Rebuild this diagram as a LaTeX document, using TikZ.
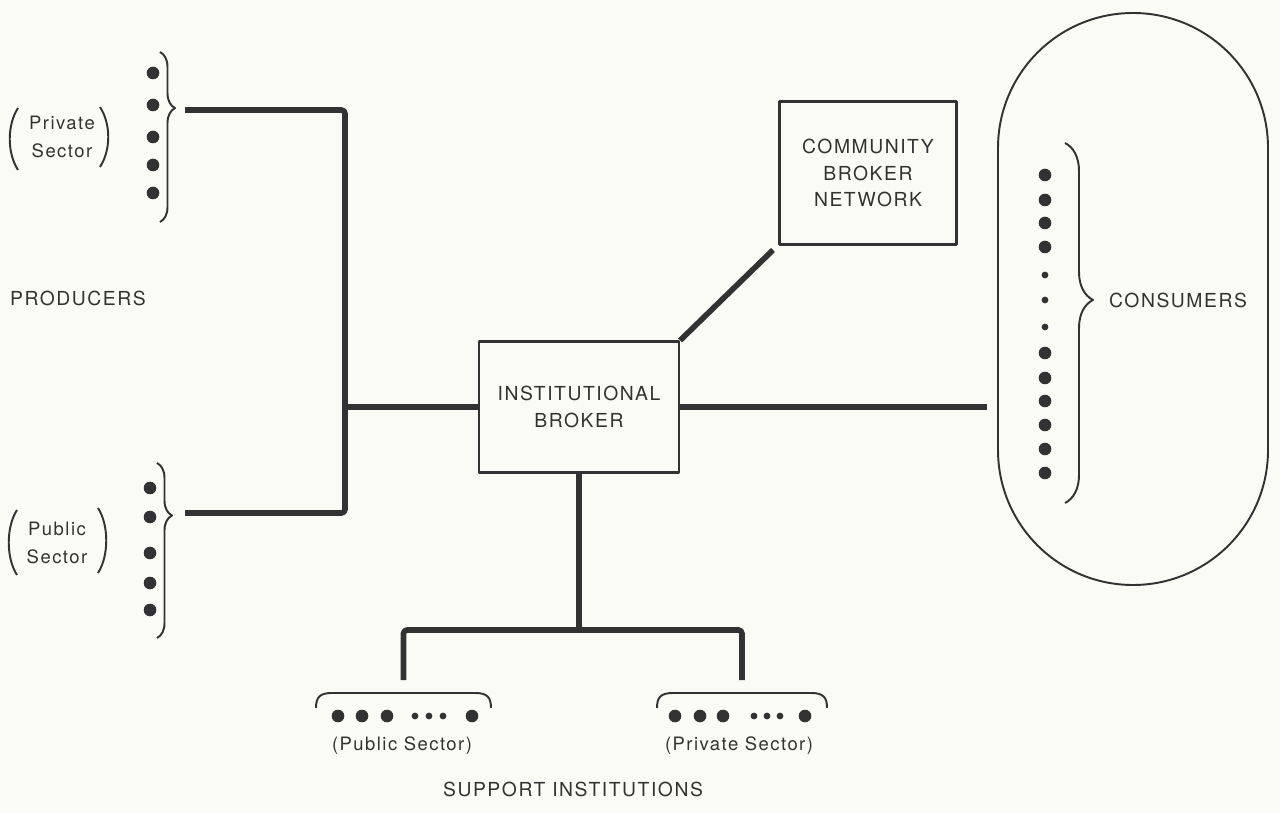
\documentclass[tikz,border=0pt]{standalone}
\usepackage{fontspec}
\setmainfont{TeX Gyre Heros}[LetterSpace=8]
\usepackage{xcolor}
\usepackage{tikz}
\usetikzlibrary{positioning}
\usetikzlibrary{decorations.pathreplacing}

\definecolor{ink}{RGB}{50,50,50}
\definecolor{paper}{RGB}{251,251,245}

\begin{document}
\begin{tikzpicture}[x = 0.02cm, y = -0.02cm, line join = round,
  feed/.style = {draw = ink, line width = 3.2pt, rounded corners = 2pt},
  boxed/.style = {draw = ink, line width = 1.2pt, align = center, inner sep = 0pt, text = ink, font = \fontsize{11}{15}\selectfont},
  lbl/.style = {text = ink, align = center, font = \fontsize{11}{15}\selectfont},
  small/.style = {text = ink, align = center, font = \fontsize{10.5}{15.5}\selectfont},
  brk/.style = {draw = ink, line width = 1.1pt, decorate},
  paren/.style = {draw = ink, line width = 1.1pt}]
\def\bigR{6.3}
\def\smallR{3.4}

\fill [paper] (0, 0) rectangle (1280, 813);
\useasboundingbox (0, 0) rectangle (1280, 813);

% producers
\node [lbl] (producers) at (78, 298) {PRODUCERS};
\node [small] (privLbl) at (62, 137) {Private\\Sector};
\draw [paren] (18, 108) .. controls (7, 125) and (7, 153) .. (18, 170);
\draw [paren] (100, 107) .. controls (111, 124) and (111, 150) .. (100, 167);
\foreach \y in {73, 105, 137, 165, 193}
  \fill [ink] (153, \y) circle (\bigR);
\draw [brk, decoration = {brace, amplitude = 0.3cm, aspect = 0.33}] (160, 52) -- (160, 222);

\node [small] (pubLbl) at (57, 543) {Public\\Sector};
\draw [paren] (17, 510) .. controls (6, 527) and (6, 558) .. (17, 575);
\draw [paren] (98, 508) .. controls (109, 525) and (109, 556) .. (98, 573);
\foreach \y in {488, 517, 553, 583, 610}
  \fill [ink] (150, \y) circle (\bigR);
\draw [brk, decoration = {brace, amplitude = 0.3cm, aspect = 0.3}] (157, 463) -- (157, 638);

% brokers
\node [boxed, minimum width = 4cm, minimum height = 2.62cm] (broker) at (579, 407) {INSTITUTIONAL\\BROKER};
\node [boxed, minimum width = 3.54cm, minimum height = 2.86cm] (cbn) at (868, 173) {COMMUNITY\\BROKER\\NETWORK};

% consumers
\draw [ink, line width = 1.1pt] (998, 148) arc [start angle = 180, end angle = 360, radius = 135] -- (1268, 450) arc [start angle = 0, end angle = 180, radius = 135] -- cycle;
\foreach \y in {175, 200, 223, 247, 353, 378, 401, 425, 449, 473}
  \fill [ink] (1045, \y) circle (\bigR);
\foreach \y in {275, 300, 327}
  \fill [ink] (1045, \y) circle (\smallR);
\draw [brk, decoration = {brace, amplitude = 0.56cm, aspect = 0.436}] (1065, 143) -- (1065, 503);
\node [lbl] (consumers) at (1178, 300) {CONSUMERS};

% support institutions
\draw [paren] (316, 708) .. controls (316, 697) and (320, 693) .. (332, 693) -- (475, 693) .. controls (487, 693) and (491, 697) .. (491, 708);
\foreach \x in {338, 362, 387, 472}
  \fill [ink] (\x, 716) circle (\bigR);
\foreach \x in {415, 429, 443}
  \fill [ink] (\x, 716) circle (\smallR);
\node [small] (pubSupLbl) at (402, 746) {(Public Sector)};

\draw [paren] (657, 708) .. controls (657, 697) and (661, 693) .. (673, 693) -- (811, 693) .. controls (823, 693) and (827, 697) .. (827, 708);
\foreach \x in {675, 700, 723, 805}
  \fill [ink] (\x, 716) circle (\bigR);
\foreach \x in {754, 767, 780}
  \fill [ink] (\x, 716) circle (\smallR);
\node [small] (privSupLbl) at (739, 746) {(Private Sector)};
\node [lbl] (support) at (573, 789) {SUPPORT INSTITUTIONS};

% connectors
\coordinate (privTip) at (185, 110);
\coordinate (pubTip) at (185, 513);
\coordinate (joint) at (345, 407);
\coordinate (cbnEnd) at (773, 250);
\coordinate (consEnd) at (987, 407);
\coordinate (supJoint) at (579, 630);
\coordinate (pubSupTop) at (403.5, 680);
\coordinate (privSupTop) at (742, 680);

\draw [feed] (privTip) -| (joint) |- (pubTip);
\draw [feed] (joint) -- (broker.west);
\draw [feed] (broker.north east) -- (cbnEnd);
\draw [feed] (broker.east) -- (consEnd);
\draw [feed] (broker.south) -- (supJoint);
\draw [feed] (pubSupTop) |- (supJoint) -| (privSupTop);
\end{tikzpicture}
\end{document}
